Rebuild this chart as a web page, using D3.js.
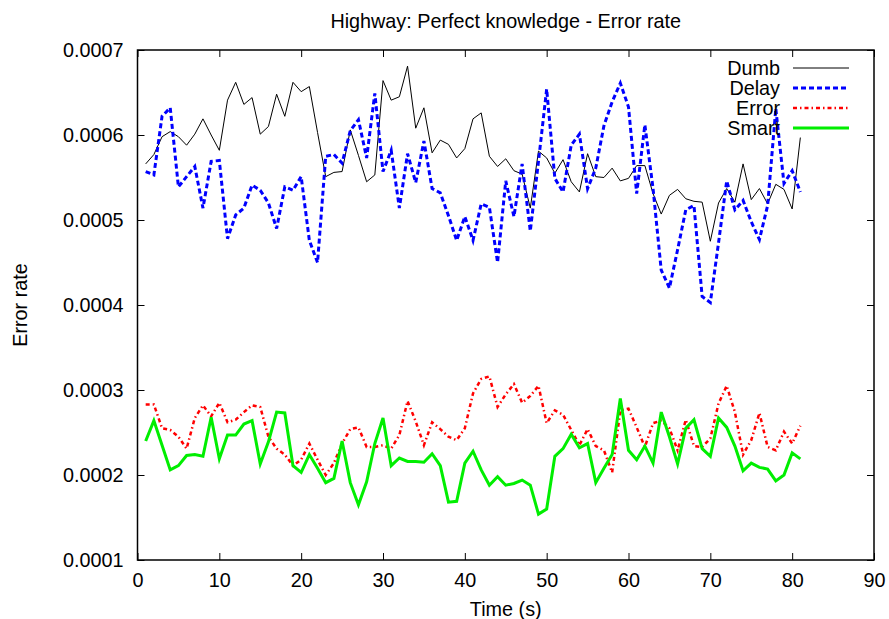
<!DOCTYPE html>
<html>
<head>
<meta charset="utf-8">
<script src="https://cdn.jsdelivr.net/npm/d3@7"></script>
<style>
  body { margin: 0; background: #fff; }
  text { font-family: "Liberation Sans", Arial, Helvetica, sans-serif; fill: #000; }
</style>
</head>
<body>
<div id="chart"></div>
<script>
// time steps (s)
var times = d3.range(1, 82);

// error rate values per series
var dumb = [0.000566,0.000577,0.000598,0.000604,0.000598,0.000588,0.000601,0.000619,0.000600,0.000582,
  0.000641,0.000662,0.000636,0.000644,0.000601,0.000610,0.000648,0.000622,0.000662,0.000651,
  0.000657,0.000603,0.000551,0.000556,0.000557,0.000606,0.000576,0.000545,0.000553,0.000664,
  0.000641,0.000645,0.000681,0.000608,0.000632,0.000579,0.000594,0.000589,0.000573,0.000584,
  0.000619,0.000626,0.000575,0.000563,0.000572,0.000558,0.000554,0.000514,0.000581,0.000573,
  0.000555,0.000571,0.000545,0.000533,0.000578,0.000551,0.000550,0.000561,0.000546,0.000549,
  0.000564,0.000564,0.000531,0.000507,0.000529,0.000536,0.000525,0.000522,0.000521,0.000475,
  0.000520,0.000537,0.000521,0.000566,0.000524,0.000537,0.000519,0.000542,0.000536,0.000513,0.000597];

var delay = [0.000557,0.000553,0.000622,0.000632,0.000539,0.000551,0.000563,0.000514,0.000569,0.000570,
  0.000478,0.000506,0.000514,0.000541,0.000535,0.000520,0.000490,0.000539,0.000535,0.000551,
  0.000476,0.000450,0.000575,0.000577,0.000567,0.000605,0.000618,0.000573,0.000649,0.000557,
  0.000582,0.000514,0.000578,0.000544,0.000593,0.000537,0.000532,0.000505,0.000476,0.000504,
  0.000476,0.000519,0.000515,0.000450,0.000546,0.000504,0.000566,0.000487,0.000569,0.000654,
  0.000549,0.000533,0.000588,0.000601,0.000537,0.000561,0.000611,0.000639,0.000661,0.000633,
  0.000531,0.000612,0.000537,0.000441,0.000420,0.000465,0.000512,0.000517,0.000410,0.000403,
  0.000473,0.000546,0.000512,0.000523,0.000498,0.000477,0.000517,0.000631,0.000543,0.000558,0.000533];

var error = [0.000283,0.000283,0.000255,0.000253,0.000245,0.000231,0.000267,0.000282,0.000269,0.000285,
  0.000262,0.000265,0.000274,0.000282,0.000280,0.000245,0.000231,0.000224,0.000211,0.000218,
  0.000237,0.000218,0.000200,0.000214,0.000237,0.000254,0.000256,0.000233,0.000233,0.000235,
  0.000231,0.000247,0.000287,0.000263,0.000235,0.000262,0.000254,0.000245,0.000241,0.000255,
  0.000296,0.000313,0.000316,0.000280,0.000295,0.000307,0.000285,0.000293,0.000305,0.000261,
  0.000276,0.000271,0.000253,0.000235,0.000254,0.000234,0.000229,0.000203,0.000276,0.000278,
  0.000256,0.000233,0.000261,0.000264,0.000255,0.000229,0.000265,0.000234,0.000233,0.000243,
  0.000284,0.000305,0.000274,0.000224,0.000241,0.000273,0.000233,0.000229,0.000251,0.000237,0.000258];

var smart = [0.000240,0.000264,0.000235,0.000206,0.000211,0.000223,0.000224,0.000222,0.000268,0.000219,
  0.000247,0.000247,0.000260,0.000264,0.000213,0.000239,0.000274,0.000273,0.000211,0.000203,
  0.000224,0.000208,0.000191,0.000196,0.000240,0.000191,0.000165,0.000192,0.000237,0.000267,
  0.000211,0.000220,0.000216,0.000216,0.000215,0.000225,0.000211,0.000168,0.000169,0.000214,
  0.000228,0.000206,0.000188,0.000198,0.000188,0.000190,0.000194,0.000188,0.000154,0.000160,
  0.000222,0.000231,0.000248,0.000232,0.000237,0.000191,0.000208,0.000224,0.000290,0.000229,
  0.000218,0.000234,0.000214,0.000274,0.000245,0.000213,0.000255,0.000265,0.000231,0.000222,
  0.000267,0.000256,0.000234,0.000205,0.000214,0.000209,0.000207,0.000193,0.000200,0.000226,0.000219];

var seriesNames = ["Dumb", "Delay", "Error", "Smart"];
var xTicks = d3.range(0, 91, 10);
var yTicks = [0.0001, 0.0002, 0.0003, 0.0004, 0.0005, 0.0006, 0.0007];

var width = 889, height = 619;
var margin = {top: 50, right: 15, bottom: 59, left: 137.5};
var fs = "19.8px";

var svg = d3.select("#chart").append("svg")
  .attr("width", width)
  .attr("height", height);

var x = d3.scaleLinear().domain([0, 90]).range([margin.left, width - margin.right]);
var y = d3.scaleLinear().domain([0.0001, 0.0007]).range([height - margin.bottom, margin.top]);

var fmt = d3.format(".4f");

// axes - gnuplot style, ticks inside and mirrored
svg.append("g")
  .attr("transform", "translate(0," + y.range()[0] + ")")
  .call(d3.axisBottom(x).tickValues(xTicks).tickSizeInner(-7).tickSizeOuter(0).tickPadding(13));
svg.append("g")
  .attr("transform", "translate(0," + y.range()[1] + ")")
  .call(d3.axisTop(x).tickValues(xTicks).tickSizeInner(-7).tickSizeOuter(0).tickFormat(""));
svg.append("g")
  .attr("transform", "translate(" + x.range()[0] + ",0)")
  .call(d3.axisLeft(y).tickValues(yTicks).tickFormat(fmt).tickSizeInner(-7).tickSizeOuter(0).tickPadding(14));
svg.append("g")
  .attr("transform", "translate(" + x.range()[1] + ",0)")
  .call(d3.axisRight(y).tickValues(yTicks).tickSizeInner(-7).tickSizeOuter(0).tickFormat(""));

svg.selectAll(".domain").remove();
svg.selectAll(".tick line").attr("stroke", "#000").attr("stroke-width", 1);
svg.selectAll(".tick text").style("font-size", fs).attr("fill", "#000")
  .style("font-family", "'Liberation Sans', Arial, sans-serif");

// frame
svg.append("rect")
  .attr("x", x.range()[0]).attr("y", y.range()[1])
  .attr("width", x.range()[1] - x.range()[0])
  .attr("height", y.range()[0] - y.range()[1])
  .attr("fill", "none").attr("stroke", "#000").attr("stroke-width", 1.5);

// lines
var styles = [
  {name: "Dumb", data: dumb, color: "#000000", w: 1, dash: null},
  {name: "Delay", data: delay, color: "#0000ff", w: 3, dash: "5,3"},
  {name: "Error", data: error, color: "#ff0000", w: 2.5, dash: "4,3,1.5,3"},
  {name: "Smart", data: smart, color: "#00ee00", w: 3, dash: null}
];

var line = d3.line()
  .x(function(d, i) { return x(times[i]); })
  .y(function(d) { return y(d); });

styles.forEach(function(s) {
  svg.append("path")
    .datum(s.data)
    .attr("d", line)
    .attr("fill", "none")
    .attr("stroke", s.color)
    .attr("stroke-width", s.w)
    .attr("stroke-dasharray", s.dash)
    .attr("stroke-linejoin", "miter");
});

// legend
var leg = svg.append("g");
styles.forEach(function(s, i) {
  var ly = 68 + i * 20;
  leg.append("text")
    .attr("x", 780).attr("y", ly).attr("dy", "0.35em")
    .attr("text-anchor", "end")
    .style("font-size", fs)
    .text(seriesNames[i]);
  leg.append("line")
    .attr("x1", 793).attr("x2", 849)
    .attr("y1", ly).attr("y2", ly)
    .attr("stroke", s.color)
    .attr("stroke-width", s.w)
    .attr("stroke-dasharray", s.dash);
});

// title and axis labels
svg.append("text")
  .attr("x", (x.range()[0] + x.range()[1]) / 2).attr("y", 28)
  .attr("text-anchor", "middle")
  .style("font-size", fs)
  .text("Highway: Perfect knowledge - Error rate");

svg.append("text")
  .attr("x", (x.range()[0] + x.range()[1]) / 2).attr("y", 616)
  .attr("text-anchor", "middle")
  .style("font-size", fs)
  .text("Time (s)");

svg.append("text")
  .attr("transform", "translate(27," + ((y.range()[0] + y.range()[1]) / 2) + ") rotate(-90)")
  .attr("text-anchor", "middle")
  .style("font-size", fs)
  .text("Error rate");
</script>
</body>
</html>
